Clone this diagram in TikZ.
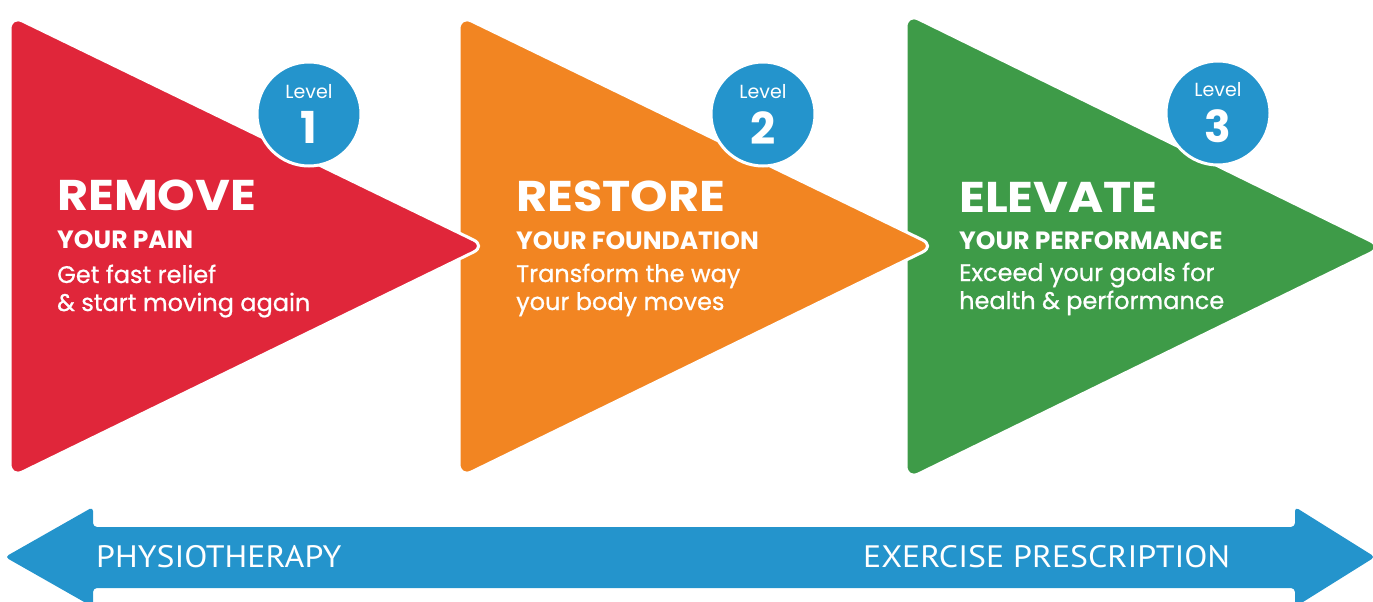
\documentclass[tikz,border=0pt]{standalone}
\usepackage{fontspec}
\setmainfont{Poppins}
\newfontfamily\headfont[FakeStretch=1.11]{Poppins}
\newfontfamily\blurbfont[FakeBold=0.8]{Poppins}
\newfontfamily\bandfont[FakeStretch=1.09]{PT Sans}
\definecolor{removered}{HTML}{E0263A}
\definecolor{restoreorange}{HTML}{F28522}
\definecolor{elevategreen}{HTML}{3E9B48}
\definecolor{levelblue}{HTML}{2494CC}
\begin{document}
\begin{tikzpicture}[x=1pt, y=-1pt]
    % Define styles
    \tikzstyle{stage} = [draw=white, line width=3pt, rounded corners=14pt, line join=round]
    \tikzstyle{level} = [circle, fill=levelblue, draw=white, line width=3pt, minimum size=104pt, inner sep=0pt, text=white, align=center]
    \tikzstyle{title} = [anchor=base west, inner sep=0pt, text=white, font=\headfont\bfseries\fontsize{43}{43}\selectfont]
    \tikzstyle{subtitle} = [anchor=base west, inner sep=0pt, text=white, font=\bfseries\fontsize{25}{25}\selectfont]
    \tikzstyle{blurb} = [anchor=base west, inner sep=0pt, text=white, align=left, font=\blurbfont\fontsize{24}{28}\selectfont]
    \tikzstyle{band} = [anchor=base west, inner sep=0pt, text=white, font=\bandfont\fontsize{31}{31}\selectfont]

    \useasboundingbox (0,0) rectangle (1373,602);

    % Stages, drawn back to front
    \filldraw [stage, fill=elevategreen] (906,13) -- (1383,247) -- (906,480) -- cycle;
    \filldraw [stage, fill=restoreorange] (459,15) -- (935,246) -- (459,478) -- cycle;
    \filldraw [stage, fill=removered] (10,15) -- (486,246) -- (10,478) -- cycle;

    % Level badges
    \node [level] (lvl1) at (309,114) {{\fontsize{19}{19}\selectfont Level}\\[12pt]{\bfseries\fontsize{44}{44}\selectfont 1}};
    \node [level] (lvl2) at (763,114) {{\fontsize{19}{19}\selectfont Level}\\[12pt]{\bfseries\fontsize{44}{44}\selectfont 2}};
    \node [level] (lvl3) at (1218,113) {{\fontsize{19}{19}\selectfont Level}\\[12pt]{\bfseries\fontsize{44}{44}\selectfont 3}};

    % Stage texts
    \node [title] (remove) at (57,210) {REMOVE};
    \node [subtitle] (pain) at (57,248) {YOUR PAIN};
    \node [blurb] (relief) at (57,311) {Get fast relief\\\& start moving again};

    \node [title] (restore) at (516,211) {RESTORE};
    \node [subtitle] (foundation) at (516,249) {YOUR FOUNDATION};
    \node [blurb] (transform) at (516,310) {Transform the way\\your body moves};

    \node [title] (elevate) at (959,212) {ELEVATE};
    \node [subtitle] (performance) at (959,249) {YOUR PERFORMANCE};
    \node [blurb] (exceed) at (959,309) {Exceed your goals for\\health \& performance};

    % Double arrow along the bottom
    \fill [levelblue, rounded corners=4pt] (5,557) -- (93,507) -- (93,527) -- (1295,527) -- (1295,507) -- (1375,557) -- (1295,607) -- (1295,588) -- (93,588) -- (93,607) -- cycle;
    \node [band] (physio) at (96,567) {PHYSIOTHERAPY};
    \node [band] (exercise) at (863,567) {EXERCISE PRESCRIPTION};

\end{tikzpicture}
\end{document}
